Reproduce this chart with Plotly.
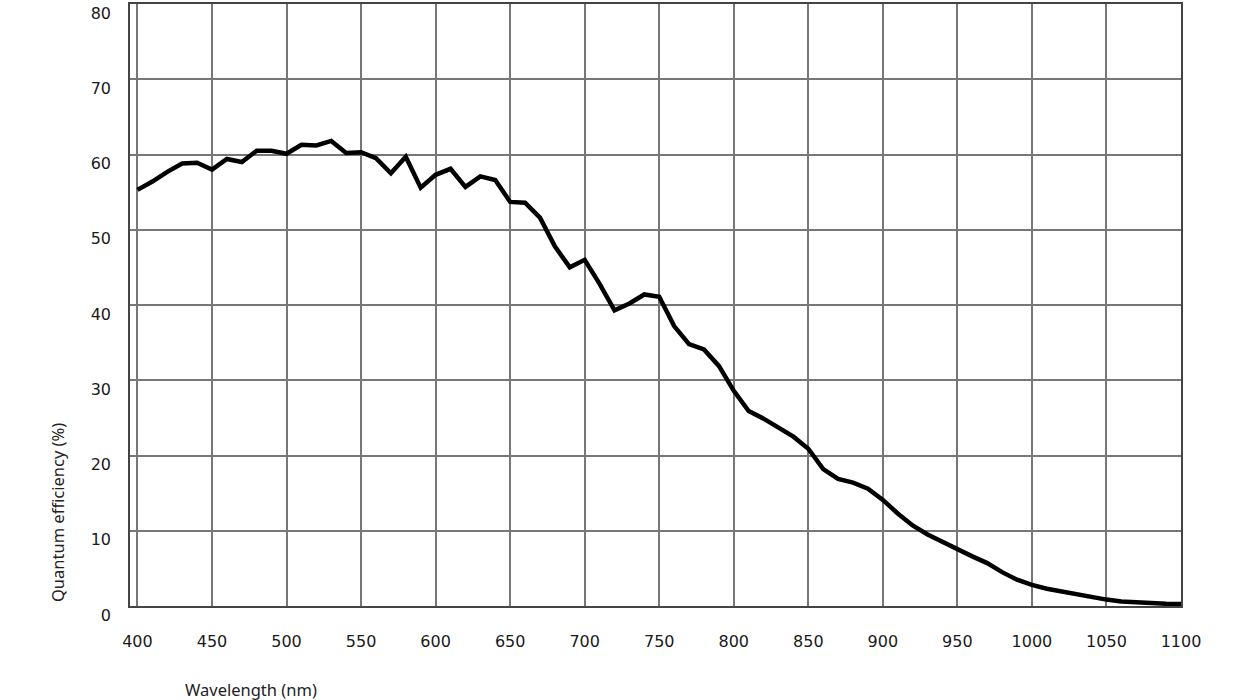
import plotly.graph_objects as go

wavelength = list(range(400, 1101, 10))
qe = [55.3, 56.4, 57.7, 58.8, 58.9, 58.0, 59.4, 59.0, 60.5, 60.5,
      60.1, 61.3, 61.2, 61.8, 60.2, 60.3, 59.5, 57.5, 59.7, 55.6,
      57.3, 58.1, 55.7, 57.1, 56.6, 53.7, 53.6, 51.6, 47.8, 45.0,
      46.0, 42.8, 39.3, 40.2, 41.4, 41.1, 37.2, 34.8, 34.1, 31.9,
      28.6, 25.9, 24.9, 23.7, 22.5, 20.9, 18.2, 16.9, 16.4, 15.6,
      14.1, 12.3, 10.7, 9.5, 8.5, 7.5, 6.6, 5.7, 4.5, 3.5,
      2.8, 2.3, 1.9, 1.5, 1.15, 0.85, 0.6, 0.45, 0.35, 0.3, 0.25]

x_ticks = list(range(400, 1101, 50))
y_ticks = list(range(0, 81, 10))

fig = go.Figure()
fig.add_trace(go.Scatter(x=wavelength, y=qe, mode="lines",
                         line=dict(color="black", width=4.5),
                         hoverinfo="x+y", showlegend=False))

fig.update_layout(
    width=1250, height=700,
    margin=dict(l=130, r=69, t=2, b=94),
    paper_bgcolor="white", plot_bgcolor="white",
    font=dict(family="DejaVu Sans, Verdana, sans-serif", size=16, color="#1a1a1a"),
    xaxis=dict(range=[395, 1100], tickvals=x_ticks, ticktext=[str(v) for v in x_ticks],
               showgrid=True, gridcolor="#777", gridwidth=1.5,
               showline=True, linecolor="#444", linewidth=1.5, mirror=True,
               zeroline=False, ticks="", ticklabelstandoff=20),
    yaxis=dict(range=[0, 80], tickvals=y_ticks, ticktext=[str(v) for v in y_ticks],
               showgrid=True, gridcolor="#777", gridwidth=1.5,
               showline=True, linecolor="#444", linewidth=1.5, mirror=True,
               zeroline=False, ticks="", ticklabelstandoff=14, ticklabelshift=9),
    annotations=[
        dict(text="Quantum efficiency (%)", xref="paper", yref="paper",
             x=-0.0695, y=0.156, textangle=-90, showarrow=False,
             xanchor="center", yanchor="middle",
             font=dict(family="Noto Sans, Open Sans, sans-serif", size=16.5, color="#222")),
        dict(text="Wavelength (nm)", xref="paper", yref="paper",
             x=0.115, y=-0.139, showarrow=False,
             xanchor="center", yanchor="middle",
             font=dict(family="Noto Sans, Open Sans, sans-serif", size=16.5, color="#222")),
    ],
)

fig.write_html("out.html", config={"displayModeBar": False},
               post_script="document.body.style.margin='0';document.body.style.overflow='hidden';")
